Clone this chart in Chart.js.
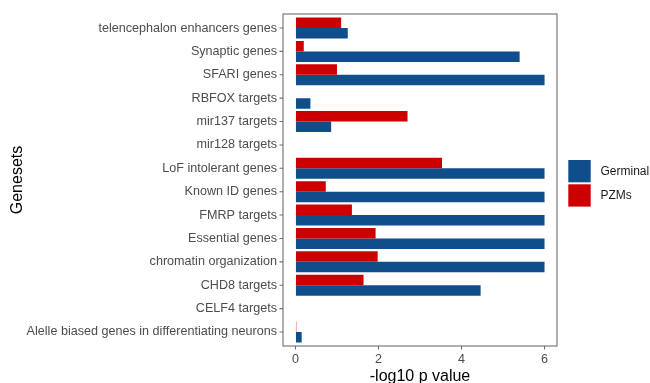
<!DOCTYPE html>
<html>
<head>
<meta charset="utf-8">
<script src="https://cdn.jsdelivr.net/npm/chart.js@4/dist/chart.umd.min.js"></script>
<style>
  html, body { margin: 0; padding: 0; background: #ffffff; }
  #wrap { width: 650px; height: 383px; position: relative; }
</style>
</head>
<body>
<div id="wrap"><canvas id="c" width="650" height="383"></canvas></div>
<script>
// Gene sets, top to bottom
const genesets = [
  'telencephalon enhancers genes',
  'Synaptic genes',
  'SFARI genes',
  'RBFOX targets',
  'mir137 targets',
  'mir128 targets',
  'LoF intolerant genes',
  'Known ID genes',
  'FMRP targets',
  'Essential genes',
  'chromatin organization',
  'CHD8 targets',
  'CELF4 targets',
  'Alelle biased genes in differentiating neurons'
];

// -log10 p values per gene set
const germinal = [1.26, 5.40, 6.00, 0.36, 0.86, 0, 6.00, 6.00, 6.00, 6.00, 6.00, 4.46, 0, 0.15];
const pzms     = [1.10, 0.20, 1.00, 0,    2.70, 0, 3.53, 0.73, 1.36, 1.93, 1.98, 1.64, 0, 0.02];

const xTicks = [0, 2, 4, 6];
const seriesNames = ['Germinal', 'PZMs'];
const seriesColors = ['#104E8B', '#CD0000'];

const FONT = "'Liberation Sans', Arial, sans-serif";
const TEXT_GREY = '#4D4D4D';
const FRAME = '#6e6e6e';

// Panel frame, tick marks, axis titles and legend keys
const decorations = {
  id: 'decorations',
  afterDraw(chart) {
    const ctx = chart.ctx;
    const ca = chart.chartArea;
    const x = chart.scales.x, y = chart.scales.y;
    const step = (ca.bottom - ca.top) / genesets.length;
    const top = ca.top - 0.1 * step, bottom = ca.bottom + 0.1 * step;
    ctx.save();
    ctx.strokeStyle = FRAME;
    ctx.lineWidth = 1.1;
    ctx.strokeRect(ca.left, top, ca.right - ca.left, bottom - top);
    // tick marks
    ctx.beginPath();
    genesets.forEach((g, i) => {
      const py = y.getPixelForValue(i);
      ctx.moveTo(ca.left - 3.5, py); ctx.lineTo(ca.left, py);
    });
    xTicks.forEach(v => {
      const px = x.getPixelForValue(v);
      ctx.moveTo(px, bottom); ctx.lineTo(px, bottom + 3.5);
    });
    ctx.stroke();

    // axis titles
    ctx.fillStyle = '#000000';
    ctx.font = '16px ' + FONT;
    ctx.textAlign = 'center';
    ctx.textBaseline = 'middle';
    ctx.fillText('-log10 p value', (ca.left + ca.right) / 2, 376.5);
    ctx.save();
    ctx.translate(17.5, (top + bottom) / 2);
    ctx.rotate(-Math.PI / 2);
    ctx.fillText('Genesets', 0, 0);
    ctx.restore();

    // legend
    const lx = 568.3, ly = 160, kw = 22.4, kh = 22.3, gap = 2;
    ctx.font = '12px ' + FONT;
    ctx.textAlign = 'left';
    seriesNames.forEach((name, i) => {
      const ky = ly + i * (kh + gap);
      ctx.fillStyle = seriesColors[i];
      ctx.fillRect(lx, ky, kw, kh);
      ctx.fillStyle = '#1a1a1a';
      ctx.fillText(name, 600.5, ky + kh / 2 + 0.5);
    });
    ctx.restore();
  }
};

new Chart(document.getElementById('c'), {
  type: 'bar',
  data: {
    labels: genesets,
    datasets: [
      { label: seriesNames[1], data: pzms, backgroundColor: seriesColors[1] },
      { label: seriesNames[0], data: germinal, backgroundColor: seriesColors[0] }
    ]
  },
  options: {
    indexAxis: 'y',
    responsive: false,
    animation: false,
    devicePixelRatio: 1,
    layout: { padding: { top: 16.34, right: 93, left: 0, bottom: 0 } },
    datasets: { bar: { categoryPercentage: 0.9, barPercentage: 1.0, borderWidth: 0 } },
    plugins: { legend: { display: false }, tooltip: { enabled: false } },
    scales: {
      x: {
        type: 'linear',
        min: -0.3,
        max: 6.3,
        afterBuildTicks(scale) { scale.ticks = xTicks.map(v => ({ value: v })); },
        afterFit(scale) { scale.height = 39.34; },
        grid: { display: true, drawOnChartArea: false, drawTicks: false, color: 'rgba(0,0,0,0)' },
        border: { display: false },
        ticks: { color: TEXT_GREY, font: { family: FONT, size: 12.6 }, padding: 8.5, maxRotation: 0 }
      },
      y: {
        type: 'category',
        offset: true,
        afterFit(scale) { scale.width = 283; },
        grid: { display: true, drawOnChartArea: false, drawTicks: false, color: 'rgba(0,0,0,0)' },
        border: { display: false },
        ticks: { color: TEXT_GREY, font: { family: FONT, size: 12.6 }, padding: 6, autoSkip: false }
      }
    }
  },
  plugins: [decorations]
});
</script>
</body>
</html>
